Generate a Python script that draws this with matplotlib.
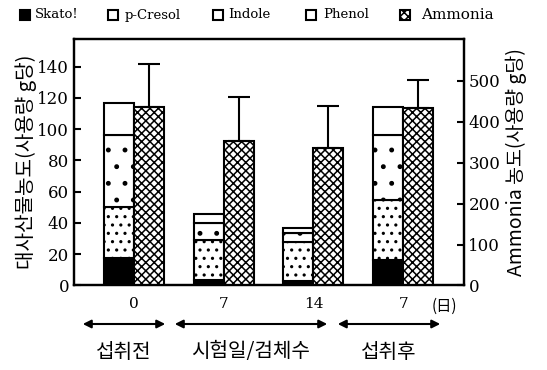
import numpy as np
import matplotlib
matplotlib.use('Agg')
from matplotlib import pyplot as plt
from matplotlib.patches import Rectangle, FancyArrowPatch

plt.rcParams['hatch.linewidth'] = 1.1

# metabolite concentrations (left axis) and ammonia (right axis)
days = ['0', '7', '14', '7']
skatol = [17.5, 3.5, 3.0, 16.0]
p_cresol = [33.0, 25.5, 25.0, 39.0]
indole = [45.5, 11.0, 5.5, 41.0]
phenol = [20.5, 6.0, 3.5, 18.0]
ammonia = [437, 352, 335, 433]
ammonia_err = [105, 108, 104, 70]

legend_names = ['Skato!', 'p-Cresol', 'Indole', 'Phenol', 'Ammonia']
periods = ['섭취전', '시험일/검체수', '섭취후']

serif = ['DejaVu Serif']
kr = ['Noto Sans CJK KR', 'DejaVu Sans']
W, H = 547, 370

fig = plt.figure(figsize=(5.47, 3.70), dpi=100)
ax = fig.add_axes([0.1353, 0.2284, 0.7121, 0.6662])
ax2 = ax.twinx()

x = np.arange(len(days))
w = 0.334
edge = dict(edgecolor='black', linewidth=1.5)

bottom = np.zeros(len(days))
styles = [
    dict(facecolor='black'),
    dict(facecolor='white', hatch='..'),
    dict(facecolor='white', hatch='.'),
    dict(facecolor='white'),
]
for vals, st in zip([skatol, p_cresol, indole, phenol], styles):
    ax.bar(x - w / 2, vals, w, bottom=bottom, **st, **edge)
    bottom += np.array(vals)

ax2.bar(x + w / 2, ammonia, w, facecolor='white', hatch='xxxx', **edge)
ax2.errorbar(x + w / 2, ammonia, yerr=[np.zeros(len(days)), ammonia_err],
             fmt='none', ecolor='black', elinewidth=1.5, capsize=8, capthick=1.5)

ax.set_xlim(-0.669, 3.674)
ax.set_ylim(0, 157.7)
ax2.set_ylim(0, 602)
ax.set_yticks(np.arange(0, 141, 20))
ax2.set_yticks(np.arange(0, 501, 100))

for a in (ax, ax2):
    for s in a.spines.values():
        s.set_linewidth(1.6)
    a.tick_params(axis='y', direction='in', length=5, width=1.5, labelsize=12)
    for lab in a.get_yticklabels():
        lab.set_family(serif)

ax.set_xticks(x)
ax.set_xticklabels(days, family=serif, fontsize=11)
ax.tick_params(axis='x', length=0, pad=8)
fig.text(432 / W, 1 - 306 / H, '(日)', family=kr, fontsize=11, va='center')

ax.set_ylabel('대사산물농도(사용량 g당)', family=kr, fontsize=14.5, labelpad=0)
ax2.set_ylabel('Ammonia 농도(사용량 g당)', family=kr, fontsize=14, labelpad=4)

# period arrows below the axis
arrow_y = 1 - 324 / H
for x0, x1, label in zip([80, 172, 335], [168, 330, 443], periods):
    arr = FancyArrowPatch((x0 / W, arrow_y), (x1 / W, arrow_y),
                          transform=fig.transFigure, arrowstyle='<|-|>',
                          mutation_scale=12, color='black', linewidth=1.5)
    fig.add_artist(arr)
    fig.text((x0 + x1) / 2 / W, 1 - 352 / H, label, family=kr,
             fontsize=14.5, ha='center', va='center')

# legend row across the top
icon_x = [20, 108, 213, 306, 400]
text_x = [35, 125, 228, 323, 421]
icon_styles = [
    dict(facecolor='black'),
    dict(facecolor='white'),
    dict(facecolor='white'),
    dict(facecolor='white'),
    dict(facecolor='white', hatch='xxxx'),
]
for ix, tx, name, st in zip(icon_x, text_x, legend_names, icon_styles):
    fig.add_artist(Rectangle((ix / W, 1 - 20 / H), 10 / W, 10 / H,
                             transform=fig.transFigure, edgecolor='black',
                             linewidth=1.5, **st))
    fig.text(tx / W, 1 - 15 / H, name, family=serif, va='center',
             fontsize=11 if name == 'Ammonia' else 9.5)

fig.savefig('out.png', dpi=100)
